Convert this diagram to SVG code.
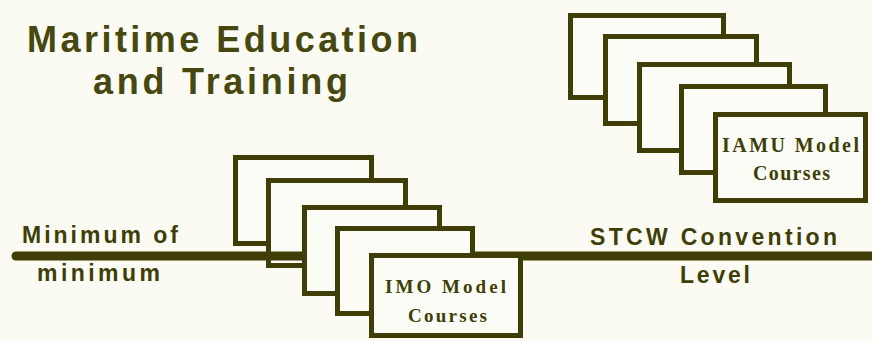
<svg xmlns="http://www.w3.org/2000/svg" width="872" height="341" viewBox="0 0 872 341">
<style>
.bg{fill:#fbfbf3}
.box{fill:#fcfcf6;stroke:#3e3e06;stroke-width:5}
.sans{font-family:"Liberation Sans",Arial,sans-serif;font-weight:bold;fill:#3e3e06;font-size:23px}
.title{font-family:"Liberation Sans",Arial,sans-serif;font-weight:bold;fill:#474710;font-size:36px}
.serif{font-family:"Liberation Serif","Times New Roman",serif;font-weight:bold;fill:#3e3e06}
.line{stroke:#3e3e06;stroke-width:9;stroke-linecap:round;fill:none}
</style>
<rect class="bg" x="0" y="0" width="872" height="341"/>
<g id="title">
<text class="title" x="27" y="52" textLength="391" lengthAdjust="spacing">Maritime Education</text>
<text class="title" x="93" y="94" textLength="255" lengthAdjust="spacing">and Training</text>
</g>
<g id="iamu-courses">
<rect class="box" x="570.5" y="15.5" width="153" height="82"/>
<rect class="box" x="605.5" y="36.5" width="151" height="87"/>
<rect class="box" x="639.5" y="64.5" width="150" height="86"/>
<rect class="box" x="681.5" y="86.5" width="144" height="86"/>
<rect class="box" x="715.5" y="114.5" width="150" height="86"/>
<text class="serif" font-size="20" x="722" y="152" textLength="137" lengthAdjust="spacing">IAMU Model</text>
<text class="serif" font-size="20" x="753" y="180" textLength="77" lengthAdjust="spacing">Courses</text>
</g>
<g id="imo-back">
<rect class="box" x="235.5" y="157.5" width="136" height="86"/>
<rect class="box" x="268.5" y="180.5" width="137" height="85"/>
</g>
<g id="connectors">
<line class="line" x1="16" y1="256" x2="876" y2="256"/>
</g>
<g id="imo-courses">
<rect class="box" x="304.5" y="207.5" width="135" height="86"/>
<rect class="box" x="337.5" y="228.5" width="135" height="85"/>
<rect class="box" x="371.5" y="255.5" width="149" height="80"/>
<text class="serif" font-size="19" x="385" y="293" textLength="121" lengthAdjust="spacing">IMO Model</text>
<text class="serif" font-size="19" x="408" y="322" textLength="79" lengthAdjust="spacing">Courses</text>
</g>
<g id="minimum-label">
<text class="sans" x="22" y="243" textLength="156" lengthAdjust="spacing">Minimum of</text>
<text class="sans" x="37" y="281" textLength="123" lengthAdjust="spacing">minimum</text>
</g>
<g id="stcw-label">
<text class="sans" x="590" y="245" textLength="247" lengthAdjust="spacing">STCW Convention</text>
<text class="sans" x="680" y="283" textLength="70" lengthAdjust="spacing">Level</text>
</g>
</svg>
